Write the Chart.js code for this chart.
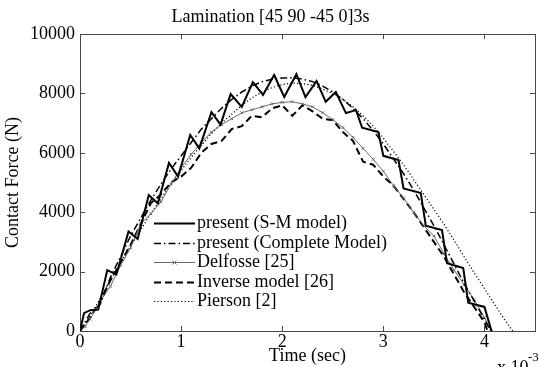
<!DOCTYPE html>
<html><head><meta charset="utf-8">
<script src="https://cdn.jsdelivr.net/npm/chart.js@4/dist/chart.umd.min.js"></script>
<style>html,body{margin:0;padding:0;background:#fff;overflow:hidden}</style>
</head><body>
<canvas id="c" width="540" height="367"></canvas>
<script>
// ---- data (time in units of 1e-3 s, force in N) ----
const TITLE = 'Lamination [45 90 -45 0]3s';
const X_TICKS = [0, 1, 2, 3, 4];
const Y_TICKS = [0, 2000, 4000, 6000, 8000, 10000];
const SERIES_NAMES = ['present (S-M model)', 'present (Complete Model)', 'Delfosse [25]', 'Inverse model [26]', 'Pierson [2]'];

const T_SM = [0,0.04,0.1,0.18,0.27,0.36,0.48,0.57,0.68,0.77,0.88,0.97,1.09,1.18,1.30,1.39,1.49,1.60,1.71,1.81,1.92,2.02,2.14,2.23,2.34,2.43,2.53,2.63,2.73,2.79,2.95,3.0,3.15,3.2,3.37,3.42,3.58,3.63,3.79,3.84,4.0,4.07];
const F_SM = [0,600,700,720,2050,1900,3350,3100,4580,4300,5660,5200,6600,6150,7370,6950,7980,7550,8380,7950,8620,7880,8650,7880,8420,7720,8050,7340,7440,6850,6700,5900,5760,4800,4650,3550,3400,2280,2120,950,810,0];

const T_CM = [0,0.1,0.2,0.3,0.4,0.5,0.6,0.7,0.8,0.9,1.0,1.1,1.2,1.3,1.4,1.5,1.6,1.7,1.8,1.9,2.0,2.1,2.2,2.3,2.4,2.5,2.6,2.7,2.8,2.9,3.0,3.1,3.2,3.3,3.4,3.5,3.6,3.7,3.8,3.9,4.0,4.06];
const F_CM = [0,600,900,1800,2500,3200,3800,4400,4950,5450,5900,6350,6800,7150,7500,7800,8050,8250,8400,8480,8520,8530,8480,8400,8250,8050,7800,7500,7150,6750,6300,5800,5300,4750,4150,3550,2900,2250,1600,1000,400,0];

const T_DF = [0,0.05,0.1,0.2,0.3,0.4,0.5,0.6,0.7,0.8,0.9,1.0,1.1,1.2,1.3,1.4,1.5,1.6,1.7,1.8,1.9,2.0,2.1,2.2,2.3,2.4,2.5,2.6,2.7,2.8,2.9,3.0,3.1,3.2,3.3,3.4,3.5,3.6,3.7,3.8,3.9,4.0,4.07];
const F_DF = [0,150,400,1000,1500,2200,2800,3600,3950,4350,4950,5500,5950,6350,6700,6950,7150,7350,7450,7550,7650,7700,7720,7650,7550,7350,7120,6850,6520,6150,5780,5380,4900,4480,4000,3550,3200,2600,2050,1550,1050,450,0];

const T_IM = [0,0.1,0.2,0.3,0.4,0.5,0.6,0.7,0.8,0.9,1.0,1.1,1.2,1.3,1.4,1.5,1.6,1.7,1.8,1.9,2.0,2.1,2.2,2.3,2.4,2.5,2.6,2.7,2.8,2.9,3.0,3.1,3.2,3.3,3.4,3.5,3.6,3.7,3.8,3.9,4.0,4.03];
const F_IM = [0,450,1000,1700,2300,2900,3600,4300,4600,5000,5200,5500,6000,6300,6400,6800,6900,7250,7200,7500,7600,7250,7600,7400,7150,7100,6700,6400,5700,5600,5200,4900,4450,4000,3500,3000,2500,1900,1300,800,300,0];

const T_PS = [0,0.1,0.2,0.3,0.4,0.5,0.6,0.7,0.8,0.9,1.0,1.1,1.2,1.3,1.4,1.5,1.6,1.7,1.8,1.9,2.0,2.1,2.2,2.3,2.4,2.5,2.6,2.7,2.8,2.9,3.0,3.1,3.2,3.3,3.4,3.5,3.6,3.7,3.8,3.9,4.0,4.1,4.2,4.28];
const F_PS = [0,500,1100,1700,2300,2850,3400,3950,4450,4950,5400,5850,6250,6650,7000,7300,7600,7850,8050,8200,8300,8350,8330,8280,8150,8000,7800,7550,7250,6900,6500,6050,5600,5100,4600,4100,3600,3050,2500,1950,1430,900,380,0];

// ---- styling ----
const FONT = {family: '"Liberation Serif", "Times New Roman", serif', size: 18, lineHeight: 1.2, weight: 'normal'};
const AXIS_COLOR = '#4a4a4a';
const pts = (t, f) => t.map((v, i) => ({x: v, y: f[i]}));

const STYLES = [
  {color: '#000', width: 2, dash: [], marker: false},
  {color: '#000', width: 1.5, dash: [7, 3, 1.5, 3], marker: false},
  {color: '#6a6a6a', width: 1, dash: [], marker: true},
  {color: '#000', width: 2, dash: [7, 4], marker: false},
  {color: '#000', width: 1.2, dash: [1.2, 2.2], marker: false}
];
const DATA = [pts(T_SM, F_SM), pts(T_CM, F_CM), pts(T_DF, F_DF), pts(T_IM, F_IM), pts(T_PS, F_PS)];

const datasets = DATA.map((d, i) => ({
  label: SERIES_NAMES[i],
  data: d,
  borderColor: STYLES[i].color,
  borderWidth: STYLES[i].width,
  borderDash: STYLES[i].dash,
  pointRadius: STYLES[i].marker ? 2 : 0,
  pointStyle: 'crossRot',
  pointBorderColor: STYLES[i].color,
  pointBorderWidth: 1,
  tension: 0,
  fill: false
}));

const decor = {
  id: 'decor',
  beforeDatasetsDraw(chart) {
    const {ctx, chartArea: a, scales: {x, y}} = chart;
    ctx.save();
    ctx.strokeStyle = AXIS_COLOR;
    ctx.lineWidth = 1;
    ctx.strokeRect(Math.round(a.left) + 0.5, Math.round(a.top) + 0.5, Math.round(a.right - a.left), Math.round(a.bottom - a.top));
    ctx.beginPath();
    x.ticks.forEach(t => {
      const p = Math.round(x.getPixelForValue(t.value)) + 0.5;
      ctx.moveTo(p, a.bottom); ctx.lineTo(p, a.bottom - 5);
      ctx.moveTo(p, a.top); ctx.lineTo(p, a.top + 5);
    });
    y.ticks.forEach(t => {
      const p = Math.round(y.getPixelForValue(t.value)) + 0.5;
      ctx.moveTo(a.left, p); ctx.lineTo(a.left + 5, p);
      ctx.moveTo(a.right, p); ctx.lineTo(a.right - 5, p);
    });
    ctx.stroke();
    ctx.restore();
  },
  afterDraw(chart) {
    const {ctx} = chart;
    ctx.save();
    // legend
    const lx0 = 154, lx1 = 195, tx = 197, y0 = 223, dy = 19.6;
    ctx.font = `${FONT.size}px ${FONT.family}`;
    ctx.textBaseline = 'middle';
    ctx.fillStyle = '#000';
    SERIES_NAMES.forEach((name, i) => {
      const yy = Math.round(y0 + i * dy) + 0.5;
      const s = STYLES[i];
      ctx.strokeStyle = s.color;
      ctx.lineWidth = s.width;
      ctx.setLineDash(s.dash);
      ctx.beginPath(); ctx.moveTo(lx0, yy); ctx.lineTo(lx1, yy); ctx.stroke();
      ctx.setLineDash([]);
      if (s.marker) {
        const cx = (lx0 + lx1) / 2;
        ctx.lineWidth = 1;
        ctx.beginPath();
        ctx.moveTo(cx - 2, yy - 2); ctx.lineTo(cx + 2, yy + 2);
        ctx.moveTo(cx - 2, yy + 2); ctx.lineTo(cx + 2, yy - 2);
        ctx.stroke();
      }
      ctx.fillText(name, tx, yy);
    });
    // exponent label
    ctx.textBaseline = 'alphabetic';
    ctx.fillText('x 10', 497, 373);
    ctx.font = `13px ${FONT.family}`;
    ctx.fillText('-3', 528, 361);
    ctx.restore();
  }
};

new Chart(document.getElementById('c'), {
  type: 'line',
  data: {datasets},
  plugins: [decor],
  options: {
    responsive: false,
    animation: false,
    devicePixelRatio: 1,
    layout: {padding: {left: 0, right: -1, top: 0, bottom: 0}},
    plugins: {
      legend: {display: false},
      tooltip: {enabled: false},
      title: {display: true, text: TITLE, color: '#000', font: FONT, padding: {top: 6.5, bottom: 6}}
    },
    scales: {
      x: {
        type: 'linear', min: 0, max: 4.5,
        afterBuildTicks: s => { s.ticks = X_TICKS.map(v => ({value: v})); },
        afterFit: s => { s.height = 36; },
        grid: {display: false, drawTicks: false},
        border: {display: false},
        ticks: {color: '#000', font: FONT, padding: 0, maxRotation: 0, autoSkip: false, callback: v => String(v)},
        title: {display: true, text: 'Time (sec)', color: '#000', font: FONT, padding: {top: 0, bottom: 0}}
      },
      y: {
        type: 'linear', min: 0, max: 10000,
        afterBuildTicks: s => { s.ticks = Y_TICKS.map(v => ({value: v})); },
        afterFit: s => { s.width = 80; },
        grid: {display: false, drawTicks: false},
        border: {display: false},
        ticks: {color: '#000', font: FONT, padding: 5, autoSkip: false, callback: v => String(v)},
        title: {display: true, text: 'Contact Force (N)', color: '#000', font: FONT, padding: {top: 2, bottom: 0}}
      }
    }
  }
});
</script>
</body></html>
